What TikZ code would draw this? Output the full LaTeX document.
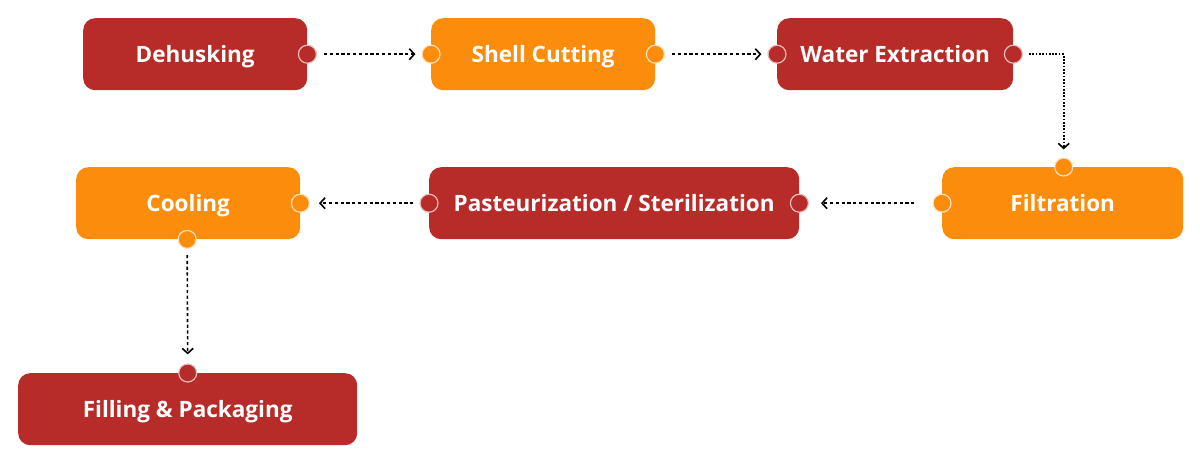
\documentclass[tikz,border=0pt]{standalone}
\usepackage{fontspec}
\setmainfont{Open Sans}
\usetikzlibrary{arrows.meta}
\definecolor{cred}{HTML}{B72B28}
\definecolor{corange}{HTML}{FC8C0C}
\tikzset{
  x=1pt,y=-1pt,
  box/.style={rounded corners=12pt, minimum height=72pt, inner sep=0pt, text=white,
     font=\fontsize{22.5}{26}\selectfont\bfseries, text height=16pt, text depth=0pt, anchor=north west},
  redbox/.style={box, fill=cred},
  orbox/.style={box, fill=corange},
  port/.style={circle, minimum size=18pt, inner sep=0pt, draw=white!75!corange, line width=1.2pt},
  rport/.style={port, fill=cred, draw=white!70!cred},
  oport/.style={port, fill=corange},
  link/.style={line width=1.6pt, dash pattern=on 3.2pt off 2.6pt, -{Straight Barb[length=5pt,width=11pt,line width=1.6pt]}},
  dlink/.style={line width=1.6pt, dash pattern=on 1.7pt off 1.6pt, -{Straight Barb[length=5pt,width=11pt,line width=1.6pt]}}
}
\begin{document}
\begin{tikzpicture}
\useasboundingbox (0,0) rectangle (1200,464);
\node[redbox, minimum width=224pt] (deh) at (83,18) {Dehusking};
\node[orbox, minimum width=224pt] (shell) at (431,18) {Shell Cutting};
\node[redbox, minimum width=236pt] (water) at (777,18) {Water Extraction};
\node[orbox, minimum width=241pt] (filt) at (942,167) {Filtration};
\node[redbox, minimum width=370pt] (past) at (429,167) {Pasteurization / Sterilization};
\node[orbox, minimum width=224pt] (cool) at (76,167) {Cooling};
\node[redbox, minimum width=339pt] (fill) at (18,373) {Filling \& Packaging};
% ports
\node[rport] (p1) at (deh.east) {};
\node[oport] (p2) at (shell.west) {};
\node[oport] (p3) at (shell.east) {};
\node[rport] (p4) at (water.west) {};
\node[rport] (p5) at (water.east) {};
\node[oport] (p6) at ([xshift=1pt]filt.north) {};
\node[oport] (p7) at (filt.west) {};
\node[rport] (p8) at (past.east) {};
\node[rport] (p9) at (past.west) {};
\node[oport] (p10) at (cool.east) {};
\node[oport] (p11) at ([xshift=-1pt]cool.south) {};
\node[rport] (p12) at ([xshift=0pt]fill.north) {};
% connectors
\draw[link] ([xshift=7pt]p1.east) -- ([xshift=-6pt]p2.west);
\draw[link] ([xshift=7pt]p3.east) -- ([xshift=-6pt]p4.west);
\draw[dlink] ([xshift=6pt]p5.east) -| ([yshift=8pt]p6.north);
\draw[link] ([xshift=-18pt]p7.west) -- ([xshift=12pt]p8.east);
\draw[link] ([xshift=-6pt]p9.west) -- ([xshift=9pt]p10.east);
\draw[link] ([yshift=-6pt]p11.south) -- ([yshift=9pt]p12.north);
\end{tikzpicture}
\end{document}
